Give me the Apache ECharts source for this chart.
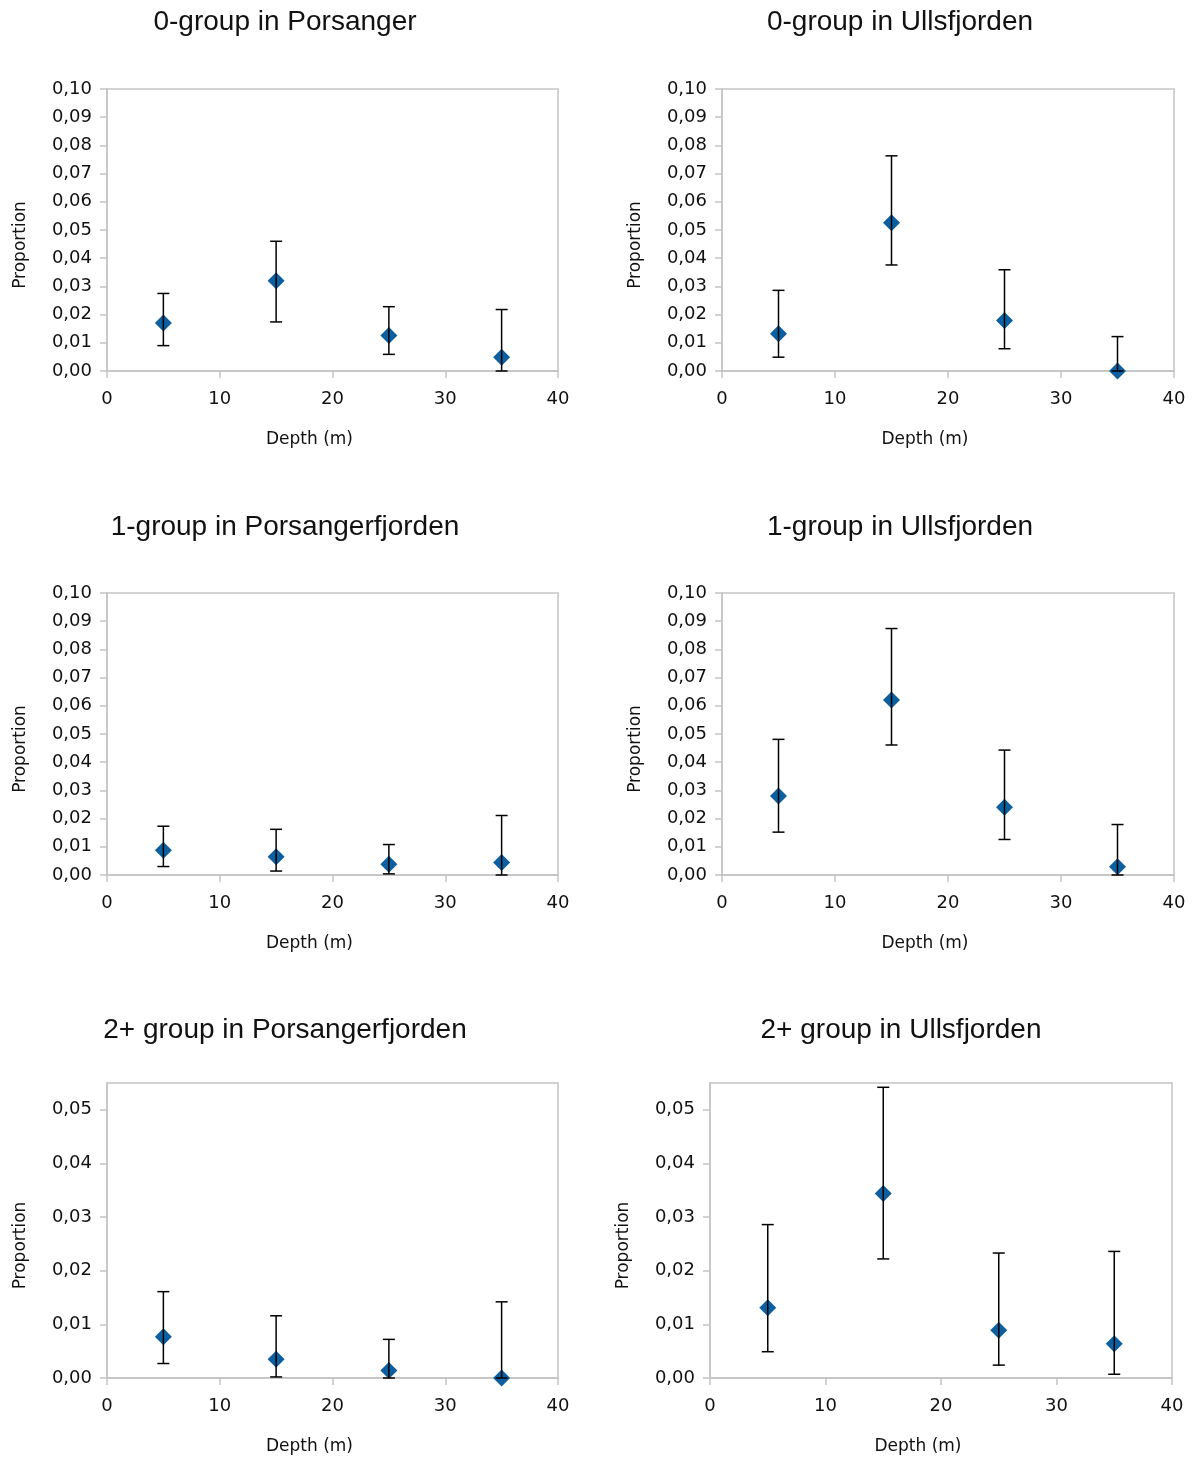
<!DOCTYPE html>
<html>
<head>
<meta charset="utf-8">
<script src="https://cdn.jsdelivr.net/npm/echarts@6/dist/echarts.min.js"></script>
<style>
  html, body { margin: 0; padding: 0; background: #fff; }
  #chart { width: 1197px; height: 1461px; }
</style>
</head>
<body>
<div id="chart"></div>
<script>
const depths = [5, 15, 25, 35]

const titles = [
  "0-group in Porsanger",
  "0-group in Ullsfjorden",
  "1-group in Porsangerfjorden",
  "1-group in Ullsfjorden",
  "2+ group in Porsangerfjorden",
  "2+ group in Ullsfjorden",
]

// y tick values: 0,00..0,10 for the top four panels, 0,00..0,05 for the 2+ panels
const bigTicks = [0, 0.01, 0.02, 0.03, 0.04, 0.05, 0.06, 0.07, 0.08, 0.09, 0.1]
const smallTicks = [0, 0.01, 0.02, 0.03, 0.04, 0.05]
const xTicks = [0, 10, 20, 30, 40]

// proportion, lower and upper error bar
const g0PorsMean = [0.017, 0.032, 0.0126, 0.0049]
const g0PorsLow = [0.009, 0.0174, 0.0059, 0.0]
const g0PorsHigh = [0.0275, 0.046, 0.0228, 0.0218]

const g0UllsMean = [0.0132, 0.0526, 0.0179, 0.0]
const g0UllsLow = [0.0049, 0.0376, 0.0079, 0.0]
const g0UllsHigh = [0.0286, 0.0763, 0.0359, 0.0122]

const g1PorsMean = [0.0088, 0.0065, 0.0038, 0.0044]
const g1PorsLow = [0.003, 0.0014, 0.0004, 0.0]
const g1PorsHigh = [0.0173, 0.0162, 0.0108, 0.0211]

const g1UllsMean = [0.028, 0.0621, 0.024, 0.0029]
const g1UllsLow = [0.0152, 0.0461, 0.0126, 0.0]
const g1UllsHigh = [0.0481, 0.0874, 0.0443, 0.0179]

const g2PorsMean = [0.0077, 0.0035, 0.0014, 0.0]
const g2PorsLow = [0.0027, 0.0002, 0.0, 0.0]
const g2PorsHigh = [0.0161, 0.0116, 0.0072, 0.0142]

const g2UllsMean = [0.0131, 0.0344, 0.0089, 0.0064]
const g2UllsLow = [0.0049, 0.0222, 0.0024, 0.0007]
const g2UllsHigh = [0.0286, 0.0542, 0.0233, 0.0236]

const yMax = [0.1, 0.1, 0.1, 0.1, 0.055, 0.055]
const yTicks = [bigTicks, bigTicks, bigTicks, bigTicks, smallTicks, smallTicks]

const panels = [
  { mean: g0PorsMean, low: g0PorsLow, high: g0PorsHigh },
  { mean: g0UllsMean, low: g0UllsLow, high: g0UllsHigh },
  { mean: g1PorsMean, low: g1PorsLow, high: g1PorsHigh },
  { mean: g1UllsMean, low: g1UllsLow, high: g1UllsHigh },
  { mean: g2PorsMean, low: g2PorsLow, high: g2PorsHigh },
  { mean: g2UllsMean, low: g2UllsLow, high: g2UllsHigh },
]

// plot area boxes
const grids = [
  { left: 107, top: 89, width: 451, height: 282 },
  { left: 722, top: 89, width: 452, height: 282 },
  { left: 107, top: 593, width: 451, height: 282 },
  { left: 722, top: 593, width: 452, height: 282 },
  { left: 107, top: 1083, width: 451, height: 295 },
  { left: 710, top: 1083, width: 462, height: 295 },
]
const titleCenters = [
  [285, 8], [900, 8], [285, 513], [900, 513], [285, 1016], [901, 1016],
]

const frameColor = "#c4c4c4"
const pointColor = "#0d5f9f"
const smallFont = "DejaVu Sans"

const chart = echarts.init(document.getElementById("chart"))

const option = {
  animation: false,
  backgroundColor: "#fff",
  title: titles.map((t, i) => ({
    text: t,
    left: titleCenters[i][0],
    top: titleCenters[i][1],
    textAlign: "center",
    padding: 0,
    textStyle: {
      fontFamily: "Liberation Sans",
      fontSize: 28,
      fontWeight: "normal",
      color: "#111",
    },
  })),
  grid: grids.map((g) => ({
    ...g,
    show: true,
    borderColor: frameColor,
    borderWidth: 1.5,
    backgroundColor: "#fff",
  })),
  xAxis: grids.map((g, i) => ({
    gridIndex: i,
    type: "value",
    min: 0,
    max: 40,
    interval: 10,
    name: "Depth (m)",
    nameLocation: "middle",
    nameGap: 60,
    nameTextStyle: {
      fontFamily: smallFont,
      fontSize: 17,
      color: "#111",
      padding: [0, 46, 0, 0],
    },
    axisLine: { lineStyle: { color: frameColor, width: 1.5 } },
    axisTick: {
      show: true,
      length: 7,
      customValues: xTicks,
      lineStyle: { color: frameColor, width: 1.5 },
    },
    axisLabel: {
      fontFamily: smallFont,
      fontSize: 18,
      color: "#111",
      margin: 19,
      customValues: xTicks,
    },
    splitLine: { show: false },
  })),
  yAxis: grids.map((g, i) => ({
    gridIndex: i,
    type: "value",
    min: 0,
    max: yMax[i],
    interval: 0.01,
    name: "Proportion",
    nameLocation: "middle",
    nameGap: 78,
    nameRotate: 90,
    nameTextStyle: {
      fontFamily: smallFont,
      fontSize: 17,
      color: "#111",
      padding: [0, 30, 0, 0],
    },
    axisLine: { lineStyle: { color: frameColor, width: 1.5 } },
    axisTick: {
      show: true,
      length: 7,
      customValues: yTicks[i],
      lineStyle: { color: frameColor, width: 1.5 },
    },
    axisLabel: {
      fontFamily: smallFont,
      fontSize: 18,
      color: "#111",
      margin: 15,
      customValues: yTicks[i],
      formatter: (v) => v.toFixed(2).replace(".", ","),
    },
    splitLine: { show: false },
  })),
  series: [],
}

panels.forEach((p, i) => {
  option.series.push({
    type: "scatter",
    xAxisIndex: i,
    yAxisIndex: i,
    symbol: "diamond",
    symbolSize: [17, 17],
    itemStyle: { color: pointColor, opacity: 1 },
    data: depths.map((d, k) => [d, p.mean[k]]),
    z: 2,
  })
  option.series.push({
    type: "custom",
    xAxisIndex: i,
    yAxisIndex: i,
    clip: false,
    z: 3,
    data: depths.map((d, k) => [d, p.low[k], p.high[k]]),
    renderItem: (params, api) => {
      const x = api.value(0)
      const lo = api.coord([x, api.value(1)])
      const hi = api.coord([x, api.value(2)])
      const hw = 6
      const style = { stroke: "#000", lineWidth: 1.5 }
      return {
        type: "group",
        children: [
          { type: "line", shape: { x1: lo[0], y1: lo[1], x2: hi[0], y2: hi[1] }, style },
          { type: "line", shape: { x1: hi[0] - hw, y1: hi[1], x2: hi[0] + hw, y2: hi[1] }, style },
          { type: "line", shape: { x1: lo[0] - hw, y1: lo[1], x2: lo[0] + hw, y2: lo[1] }, style },
        ],
      }
    },
  })
})

chart.setOption(option)
</script>
</body>
</html>
